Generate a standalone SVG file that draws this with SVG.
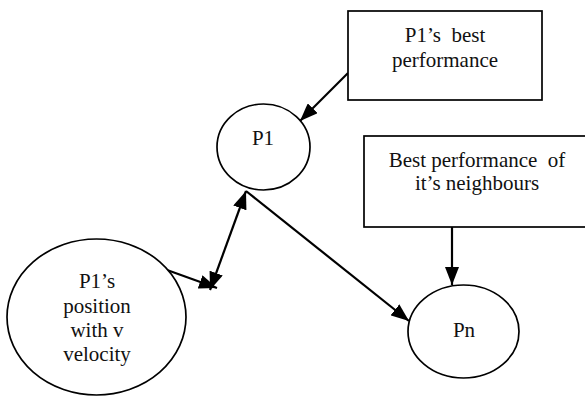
<svg xmlns="http://www.w3.org/2000/svg" width="585" height="396" viewBox="0 0 585 396">
<defs>
<style>
.shape{fill:#fff;stroke:#000;stroke-width:1.7}
.t{font-size:21px;fill:#111;text-anchor:middle}
.c{stroke:#000;stroke-width:2.2;fill:none}
</style>
<marker id="ah" viewBox="0 0 18 14" refX="18" refY="7" markerWidth="18" markerHeight="14" markerUnits="userSpaceOnUse" orient="auto-start-reverse">
<path d="M0,0 L18,7 L0,14 z" fill="#000"/>
</marker>
</defs>
<g id="connectors">
<line class="c" x1="348" y1="73" x2="300" y2="121" marker-end="url(#ah)"/>
<line class="c" x1="167" y1="270" x2="217" y2="288" marker-end="url(#ah)"/>
<line class="c" x1="210" y1="290" x2="246" y2="191" marker-start="url(#ah)" marker-end="url(#ah)"/>
<line class="c" x1="246" y1="191" x2="409" y2="321" marker-end="url(#ah)"/>
<line class="c" x1="452" y1="227" x2="452" y2="285" marker-end="url(#ah)"/>
</g>
<g font-family="'Liberation Serif', 'Times New Roman', serif">
<g id="box1">
<rect class="shape" x="348" y="11" width="194" height="89"/>
<text class="t" x="445" y="42" xml:space="preserve">P1’s  best</text>
<text class="t" x="445" y="67">performance</text>
</g>
<g id="box2">
<rect class="shape" x="364" y="136" width="230" height="91"/>
<text class="t" x="477" y="167" xml:space="preserve">Best performance  of</text>
<text class="t" x="477" y="190">it’s neighbours</text>
</g>
<g id="p1">
<ellipse class="shape" cx="263.5" cy="147" rx="46.5" ry="43"/>
<text class="t" x="263" y="145">P1</text>
</g>
<g id="pos">
<ellipse class="shape" cx="96.5" cy="317" rx="89.5" ry="78"/>
<text class="t" x="97" y="288">P1’s</text>
<text class="t" x="97" y="313">position</text>
<text class="t" x="97" y="337">with v</text>
<text class="t" x="97" y="361">velocity</text>
</g>
<g id="pn">
<ellipse class="shape" cx="463.5" cy="331.5" rx="55.5" ry="46.5"/>
<text class="t" x="464" y="337">Pn</text>
</g>
</g>
</svg>
